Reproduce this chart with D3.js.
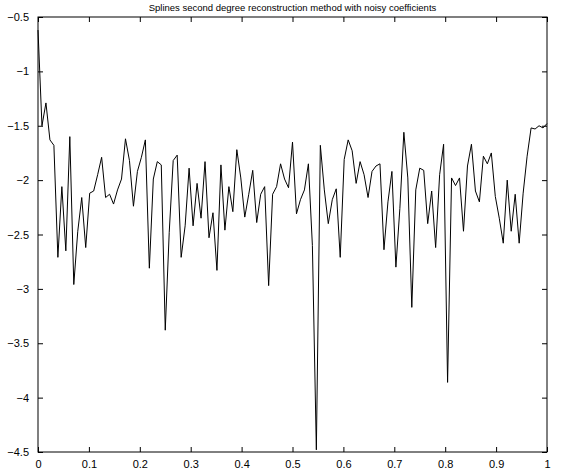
<!DOCTYPE html>
<html>
<head>
<meta charset="utf-8">
<script src="https://cdn.jsdelivr.net/npm/d3@7"></script>
<style>
  html, body { margin: 0; padding: 0; background: #fff; }
  svg text { font-family: "Liberation Sans", Arial, Helvetica, sans-serif; fill: #000; }
</style>
</head>
<body>
<div id="chart"></div>
<script>
const title = "Splines second degree reconstruction method with noisy coefficients";

// reconstructed signal, sampled uniformly on [0, 1]
const values = [
  -0.62, -1.50, -1.29, -1.63, -1.68, -2.71, -2.06, -2.65, -1.60, -2.96,
  -2.47, -2.16, -2.62, -2.12, -2.10, -1.95, -1.79, -2.16, -2.13, -2.22,
  -2.09, -1.99, -1.62, -1.82, -2.24, -1.92, -1.79, -1.63, -2.81, -1.99,
  -1.83, -1.86, -3.38, -2.48, -1.82, -1.77, -2.71, -2.42, -1.89, -2.42,
  -2.03, -2.35, -1.83, -2.53, -2.30, -2.83, -1.86, -2.46, -2.06, -2.29,
  -1.72, -1.98, -2.34, -2.13, -1.91, -2.39, -2.13, -2.06, -2.97, -2.13,
  -2.06, -1.85, -1.99, -2.07, -1.65, -2.31, -2.18, -2.09, -1.85, -2.60,
  -4.48, -1.68, -2.09, -2.40, -2.18, -2.08, -2.71, -1.81, -1.63, -1.73,
  -2.03, -1.83, -1.95, -2.16, -1.92, -1.87, -1.85, -2.64, -2.20, -1.92,
  -2.80, -2.26, -1.56, -1.98, -3.17, -2.09, -1.89, -1.91, -2.40, -2.10,
  -2.62, -1.95, -1.67, -3.86, -1.98, -2.05, -1.98, -2.47, -1.87, -1.67,
  -2.10, -2.20, -1.78, -1.85, -1.75, -2.15, -2.35, -2.58, -2.00, -2.47,
  -2.13, -2.58, -2.12, -1.78, -1.52, -1.53, -1.50, -1.52, -1.48
];

const xTicks = [0, 0.1, 0.2, 0.3, 0.4, 0.5, 0.6, 0.7, 0.8, 0.9, 1];
const yTicks = [-4.5, -4, -3.5, -3, -2.5, -2, -1.5, -1, -0.5];

const width = 578;
const height = 471;
const margin = { left: 38, right: 31, top: 17, bottom: 19 };
const tickLen = 5;

const svg = d3.select("#chart").append("svg")
  .attr("width", width)
  .attr("height", height);

const x = d3.scaleLinear()
  .domain([0, 1])
  .range([margin.left, width - margin.right]);

const y = d3.scaleLinear()
  .domain([-4.5, -0.5])
  .range([height - margin.bottom, margin.top]);

const fmt = (d) => String(d).replace("-", "\u2212");

// inward ticks on all four sides, like matlab's boxed axes
const axisBottom = d3.axisBottom(x).tickValues(xTicks).tickSizeInner(-tickLen).tickSizeOuter(0).tickPadding(8).tickFormat(fmt);
const axisTop = d3.axisTop(x).tickValues(xTicks).tickSizeInner(-tickLen).tickSizeOuter(0).tickFormat("");
const axisLeft = d3.axisLeft(y).tickValues(yTicks).tickSizeInner(-tickLen).tickSizeOuter(0).tickPadding(9).tickFormat(fmt);
const axisRight = d3.axisRight(y).tickValues(yTicks).tickSizeInner(-tickLen).tickSizeOuter(0).tickFormat("");

const axes = [
  [axisBottom, `translate(0,${y.range()[0]})`],
  [axisTop, `translate(0,${y.range()[1]})`],
  [axisLeft, `translate(${x.range()[0]},0)`],
  [axisRight, `translate(${x.range()[1]},0)`],
];

axes.forEach(([axis, tr]) => {
  const g = svg.append("g").attr("transform", tr).call(axis);
  g.select(".domain").remove();
  g.selectAll(".tick line").attr("stroke", "#000").attr("stroke-width", 1);
  g.selectAll(".tick text").attr("font-size", 11);
});

const line = d3.line()
  .x((d, i) => x(i / (values.length - 1)))
  .y((d) => y(d));

svg.append("path")
  .datum(values)
  .attr("d", line)
  .attr("fill", "none")
  .attr("stroke", "#000")
  .attr("stroke-width", 1)
  .attr("stroke-linejoin", "miter");

// frame
svg.append("rect")
  .attr("x", x.range()[0])
  .attr("y", y.range()[1])
  .attr("width", x.range()[1] - x.range()[0])
  .attr("height", y.range()[0] - y.range()[1])
  .attr("fill", "none")
  .attr("stroke", "#000")
  .attr("stroke-width", 1);

svg.append("text")
  .attr("x", (x.range()[0] + x.range()[1]) / 2)
  .attr("y", 11)
  .attr("text-anchor", "middle")
  .attr("font-size", 9.5)
  .text(title);
</script>
</body>
</html>
